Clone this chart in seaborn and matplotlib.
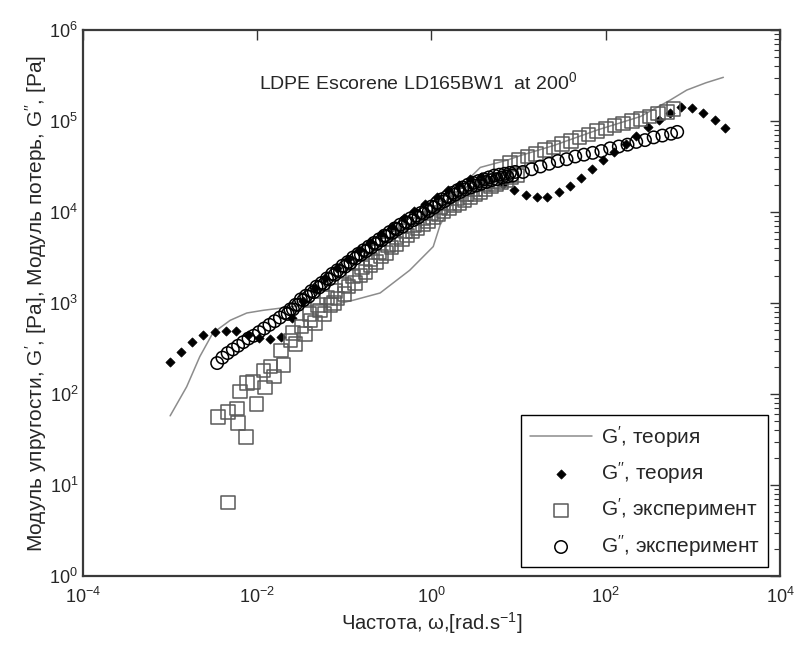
import numpy as np
import pandas as pd
import matplotlib
matplotlib.use("Agg")
import matplotlib.pyplot as plt
import matplotlib.ticker as mticker
import seaborn as sns

# ---------------- data (log10 values) ----------------
# G' theory (grey line)
gp_th_logw = [-3.00, -2.81, -2.66, -2.51, -2.31, -2.12, -1.93, -1.51, -1.13, -0.90,
              -0.59, -0.25, 0.02, 0.10, 0.18, 0.33, 0.56, 0.87, 1.02, 1.40,
              1.90, 2.40, 2.74, 2.93, 3.15, 3.35]
gp_th_logG = [1.76, 2.08, 2.41, 2.67, 2.81, 2.89, 2.92, 2.97, 2.98, 3.03,
              3.11, 3.36, 3.62, 3.86, 3.99, 4.27, 4.49, 4.57, 4.62, 4.73,
              4.90, 5.05, 5.23, 5.34, 5.42, 5.48]

# G'' theory (black diamonds)
gpp_th_logw = [-3.00, -2.87, -2.75, -2.62, -2.49, -2.36, -2.24, -2.11, -1.98, -1.85,
               -1.73, -1.60, -1.47, -1.34, -1.22, -1.09, -0.96, -0.83, -0.71, -0.58,
               -0.45, -0.32, -0.20, -0.07, 0.06, 0.19, 0.31, 0.44, 0.57, 0.70,
               0.82, 0.95, 1.08, 1.21, 1.33, 1.46, 1.59, 1.72, 1.84, 1.97,
               2.10, 2.23, 2.35, 2.48, 2.61, 2.74, 2.86, 2.99, 3.12, 3.25, 3.37]
gpp_th_logG = [2.35, 2.46, 2.57, 2.65, 2.68, 2.69, 2.69, 2.65, 2.61, 2.60,
               2.63, 2.84, 3.02, 3.17, 3.28, 3.38, 3.48, 3.58, 3.67, 3.76,
               3.84, 3.93, 4.01, 4.09, 4.17, 4.24, 4.30, 4.36, 4.38, 4.36,
               4.31, 4.24, 4.19, 4.16, 4.17, 4.22, 4.29, 4.37, 4.47, 4.57,
               4.66, 4.75, 4.84, 4.93, 5.01, 5.09, 5.15, 5.14, 5.09, 5.01, 4.92]

# G' experiment (grey squares)
gp_ex_logw = [-2.45, -2.335, -2.335, -2.23, -2.22, -2.20, -2.13, -2.12, -2.05, -2.01,
              -1.93, -1.91, -1.85, -1.81, -1.73, -1.70, -1.62, -1.59, -1.56, -1.49,
              -1.45, -1.39, -1.34, -1.28, -1.23, -1.16, -1.12, -1.08, -1.00, -0.95,
              -0.88, -0.82, -0.76, -0.70, -0.64, -0.58, -0.52, -0.46, -0.40, -0.34,
              -0.28, -0.22, -0.16, -0.10, -0.04, 0.02, 0.08, 0.14, 0.20, 0.26,
              0.32, 0.38, 0.44, 0.50, 0.56, 0.62, 0.68, 0.74, 0.80, 0.86,
              0.92, 0.98,
              -1.40, -1.30, -1.20, -1.10, -1.00, -0.90, -0.80, -0.70, -0.60, -0.50,
              -0.40, -0.30, -0.20, -0.10, 0.00, 0.10, 0.20, 0.30, 0.40, 0.50,
              0.60, 0.70,
              0.80, 0.90, 1.00, 1.10, 1.20, 1.30, 1.40, 1.50, 1.60, 1.70,
              1.80, 1.90, 2.00, 2.10, 2.20, 2.30, 2.40, 2.50, 2.60, 2.70, 2.78]
gp_ex_logG = [1.75, 1.80, 0.81, 1.84, 1.68, 2.03, 1.53, 2.12, 2.13, 1.89,
              2.26, 2.07, 2.30, 2.19, 2.48, 2.32, 2.59, 2.67, 2.55, 2.74,
              2.66, 2.81, 2.78, 2.92, 2.88, 2.98, 3.00, 3.05, 3.10, 3.18,
              3.22, 3.30, 3.34, 3.41, 3.45, 3.51, 3.55, 3.61, 3.65, 3.70,
              3.74, 3.79, 3.82, 3.87, 3.90, 3.94, 3.97, 4.01, 4.04, 4.07,
              4.10, 4.13, 4.16, 4.19, 4.22, 4.25, 4.28, 4.30, 4.33, 4.35,
              4.38, 4.40,
              2.88, 2.98, 3.06, 3.13, 3.20, 3.29, 3.39, 3.48, 3.56, 3.64,
              3.72, 3.79, 3.86, 3.93, 3.99, 4.05, 4.10, 4.15, 4.20, 4.25,
              4.30, 4.34,
              4.50, 4.54, 4.57, 4.61, 4.64, 4.68, 4.71, 4.75, 4.78, 4.82,
              4.85, 4.89, 4.92, 4.95, 4.97, 5.00, 5.02, 5.05, 5.08, 5.10, 5.13]

# G'' experiment (open circles)
gpp_ex_logw = [-2.46, -2.40, -2.34, -2.28, -2.22, -2.16, -2.10, -2.04, -1.98, -1.92,
               -1.86, -1.80, -1.74, -1.68, -1.62, -1.56, -1.50, -1.44, -1.38, -1.32,
               -1.26, -1.20, -1.14, -1.08, -1.02, -0.96, -0.90, -0.84, -0.78, -0.72,
               -0.66, -0.60, -0.54, -0.48, -0.42, -0.36, -0.30, -0.24, -0.18, -0.12,
               -0.06, 0.00, 0.06, 0.12, 0.18, 0.24, 0.30, 0.36, 0.42, 0.48,
               0.54, 0.60, 0.66, 0.72, 0.78, 0.84, 0.90, 0.96,
               -1.65, -1.59, -1.53, -1.47, -1.41, -1.35, -1.29, -1.23, -1.17, -1.11,
               -1.05, -0.99, -0.93, -0.87, -0.81, -0.75, -0.69, -0.63, -0.57, -0.51,
               -0.45, -0.39, -0.33, -0.27, -0.21, -0.15, -0.09, -0.03, 0.03, 0.09,
               0.15, 0.21, 0.27, 0.33, 0.39, 0.45, 0.51, 0.57, 0.63, 0.69,
               0.75, 0.81, 0.87, 0.93,
               1.05, 1.15, 1.25, 1.35, 1.45, 1.55, 1.65, 1.75, 1.85, 1.95,
               2.05, 2.15, 2.25, 2.35, 2.45, 2.55, 2.65, 2.75, 2.82]
gpp_ex_logG = [2.34, 2.40, 2.45, 2.49, 2.53, 2.57, 2.61, 2.64, 2.68, 2.72,
               2.76, 2.80, 2.84, 2.89, 2.93, 2.98, 3.04, 3.08, 3.13, 3.18,
               3.22, 3.27, 3.32, 3.36, 3.41, 3.45, 3.50, 3.54, 3.58, 3.62,
               3.66, 3.70, 3.74, 3.78, 3.82, 3.86, 3.89, 3.93, 3.96, 3.99,
               4.03, 4.06, 4.10, 4.14, 4.17, 4.21, 4.24, 4.27, 4.30, 4.32,
               4.34, 4.36, 4.38, 4.40, 4.41, 4.42, 4.43, 4.44,
               2.88, 2.93, 2.98, 3.03, 3.07, 3.12, 3.17, 3.21, 3.26, 3.31,
               3.35, 3.40, 3.44, 3.49, 3.53, 3.57, 3.61, 3.65, 3.69, 3.73,
               3.77, 3.81, 3.84, 3.88, 3.91, 3.94, 3.98, 4.01, 4.05, 4.09,
               4.12, 4.16, 4.19, 4.22, 4.25, 4.27, 4.29, 4.31, 4.33, 4.35,
               4.36, 4.38, 4.39, 4.40,
               4.44, 4.47, 4.50, 4.53, 4.56, 4.58, 4.61, 4.63, 4.65, 4.67,
               4.70, 4.72, 4.74, 4.77, 4.79, 4.82, 4.84, 4.86, 4.88]

title_text = "LDPE Escorene LD165BW1  at 200$^{0}$"
xlabel_text = "Частота, ω,[rad.s$^{-1}$]"
ylabel_text = "Модуль упругости, G$^{\\prime}$, [Pa], Модуль потерь, G$^{\\prime\\prime}$, [Pa]"
labels = ["G$^{\\prime}$, теория", "G$^{\\prime\\prime}$, теория",
          "G$^{\\prime}$, эксперимент", "G$^{\\prime\\prime}$, эксперимент"]

# ---------------- style ----------------
sns.set_style("white")
plt.rcParams["font.family"] = ["Liberation Sans", "DejaVu Sans"]
plt.rcParams["mathtext.fontset"] = "custom"
plt.rcParams["mathtext.rm"] = "Liberation Sans"
plt.rcParams["mathtext.it"] = "Liberation Sans:italic"
plt.rcParams["mathtext.default"] = "regular"
txt = "#262626"

fig = plt.figure(figsize=(7.94, 6.47), dpi=100)
ax = fig.add_axes([83 / 794, 1 - 576 / 647, 697 / 794, 546 / 647])

def frame(lw, lg):
    return pd.DataFrame({"w": np.power(10.0, lw), "G": np.power(10.0, lg)})

d_line = frame(gp_th_logw, gp_th_logG)
d_dia = frame(gpp_th_logw, gpp_th_logG)
d_sq = frame(gp_ex_logw, gp_ex_logG)
d_ci = frame(gpp_ex_logw, gpp_ex_logG)

sns.lineplot(data=d_line, x="w", y="G", ax=ax, color="#8c8c8c", lw=1.1,
             sort=False, estimator=None, label=labels[0], zorder=2)
sns.scatterplot(data=d_dia, x="w", y="G", ax=ax, marker="D", s=22, color="black",
                edgecolor="black", linewidth=0.5, label=labels[1], zorder=3)
sns.scatterplot(data=d_sq, x="w", y="G", ax=ax, marker="s", s=95, color="none",
                edgecolor="#5a5a5a", linewidth=1.1, label=labels[2], zorder=4)
sns.scatterplot(data=d_ci, x="w", y="G", ax=ax, marker="o", s=80, color="none",
                edgecolor="black", linewidth=1.1, label=labels[3], zorder=5)

ax.set_xscale("log")
ax.set_yscale("log")
ax.set_xlim(1e-4, 1e4)
ax.set_ylim(1e0, 1e6)
ax.xaxis.set_major_locator(mticker.FixedLocator([1e-4, 1e-2, 1e0, 1e2, 1e4]))
ax.xaxis.set_minor_locator(mticker.NullLocator())
ax.yaxis.set_major_locator(mticker.LogLocator(base=10, numticks=10))
ax.yaxis.set_minor_locator(mticker.LogLocator(base=10, subs=np.arange(2, 10), numticks=20))
fmt = mticker.FuncFormatter(lambda v, p: "$10^{%d}$" % int(round(np.log10(v))))
ax.xaxis.set_major_formatter(fmt)
ax.yaxis.set_major_formatter(fmt)
ax.tick_params(which="both", direction="in", top=True, right=True, colors="#333333",
               labelcolor=txt, labelsize=13)
ax.tick_params(which="major", length=7, width=1.0)
ax.tick_params(which="minor", length=4, width=0.8)
ax.tick_params(axis="x", pad=8)

for s in ax.spines.values():
    s.set_color("#3a3a3a")
    s.set_linewidth(1.6)

ax.set_xlabel(xlabel_text, fontsize=14.5, color=txt, labelpad=2)
ax.set_ylabel(ylabel_text, fontsize=15, color=txt, labelpad=0)
ax.text(0.48, 0.905, title_text, transform=ax.transAxes, ha="center", va="center",
        fontsize=14, color=txt)

leg = ax.legend(loc="lower right", bbox_to_anchor=(0.983, 0.0165), borderaxespad=0,
                frameon=True, fancybox=False, framealpha=1, edgecolor="black",
                fontsize=15, handlelength=3.0, labelspacing=0.5, borderpad=0.4,
                handletextpad=0.4)
leg.get_frame().set_linewidth(1.0)
for t in leg.get_texts():
    t.set_color(txt)

fig.savefig("out.png", dpi=100)
